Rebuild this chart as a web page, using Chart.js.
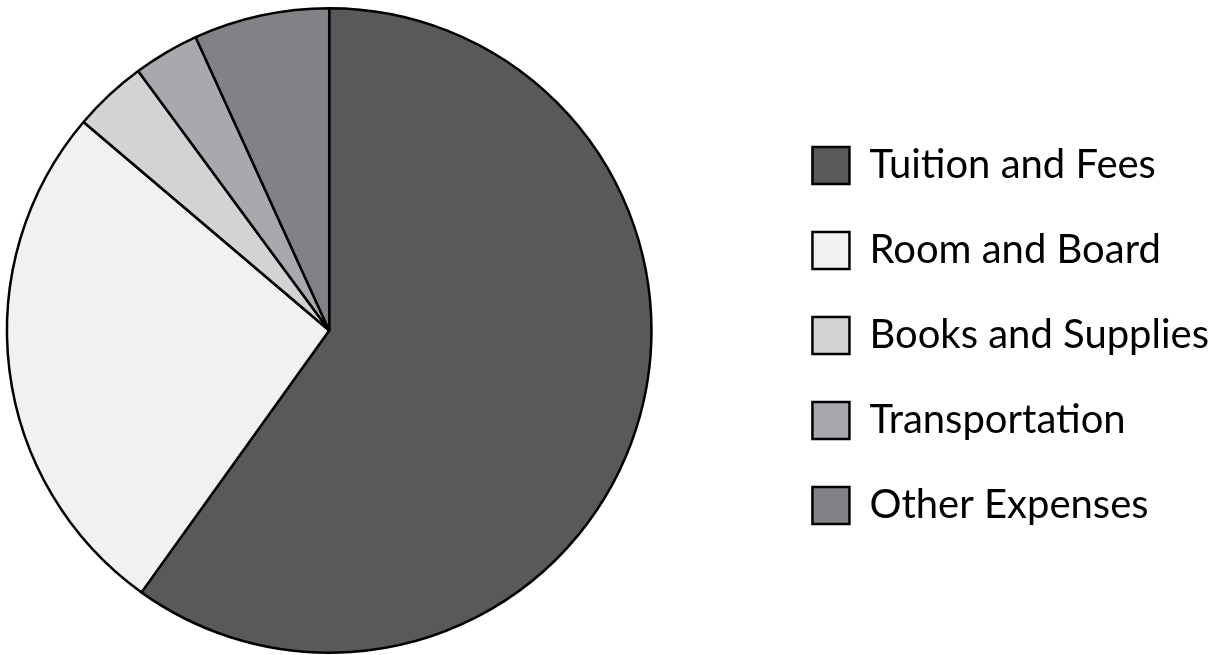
<!DOCTYPE html>
<html>
<head>
<meta charset="utf-8">
<script src="https://cdn.jsdelivr.net/npm/chart.js@4"></script>
<style>
  html, body { margin: 0; padding: 0; background: #fff; overflow: hidden; }
  /* canvas is a bit wider than the window and shifted left,
     so the pie sits near the left edge while the legend stays on the right */
  #myChart { position: absolute; left: -109px; top: 0; }
</style>
</head>
<body>
<canvas id="myChart" width="1328" height="655"></canvas>
<script>
const categories = ['Tuition and Fees', 'Room and Board', 'Books and Supplies', 'Transportation', 'Other Expenses'];
const shares = [59.9, 26.3, 3.7, 3.3, 6.8];
const sliceColors = ['#58595b', '#f1f1f2', '#d1d3d4', '#a7a9ac', '#808285'];

const ctx = document.getElementById('myChart');
new Chart(ctx, {
  type: 'pie',
  data: {
    labels: categories,
    datasets: [
      {
        data: shares,
        backgroundColor: sliceColors,
        borderColor: '#000000',
        borderWidth: 2.5,
      },
    ],
  },
  options: {
    responsive: false,
    animation: false,
    layout: {
      padding: { top: 7, bottom: 1, left: 0, right: 0 },
    },
    plugins: {
      tooltip: { enabled: false },
      legend: {
        position: 'right',
        // empty title only used to nudge the legend down a bit
        title: { display: true, text: '', padding: 0, font: { size: 10, lineHeight: 1 } },
        labels: {
          color: '#000000',
          boxWidth: 37,
          boxHeight: 37,
          padding: 45,
          font: { family: 'Lato', size: 40 },
        },
      },
    },
  },
});
</script>
</body>
</html>
